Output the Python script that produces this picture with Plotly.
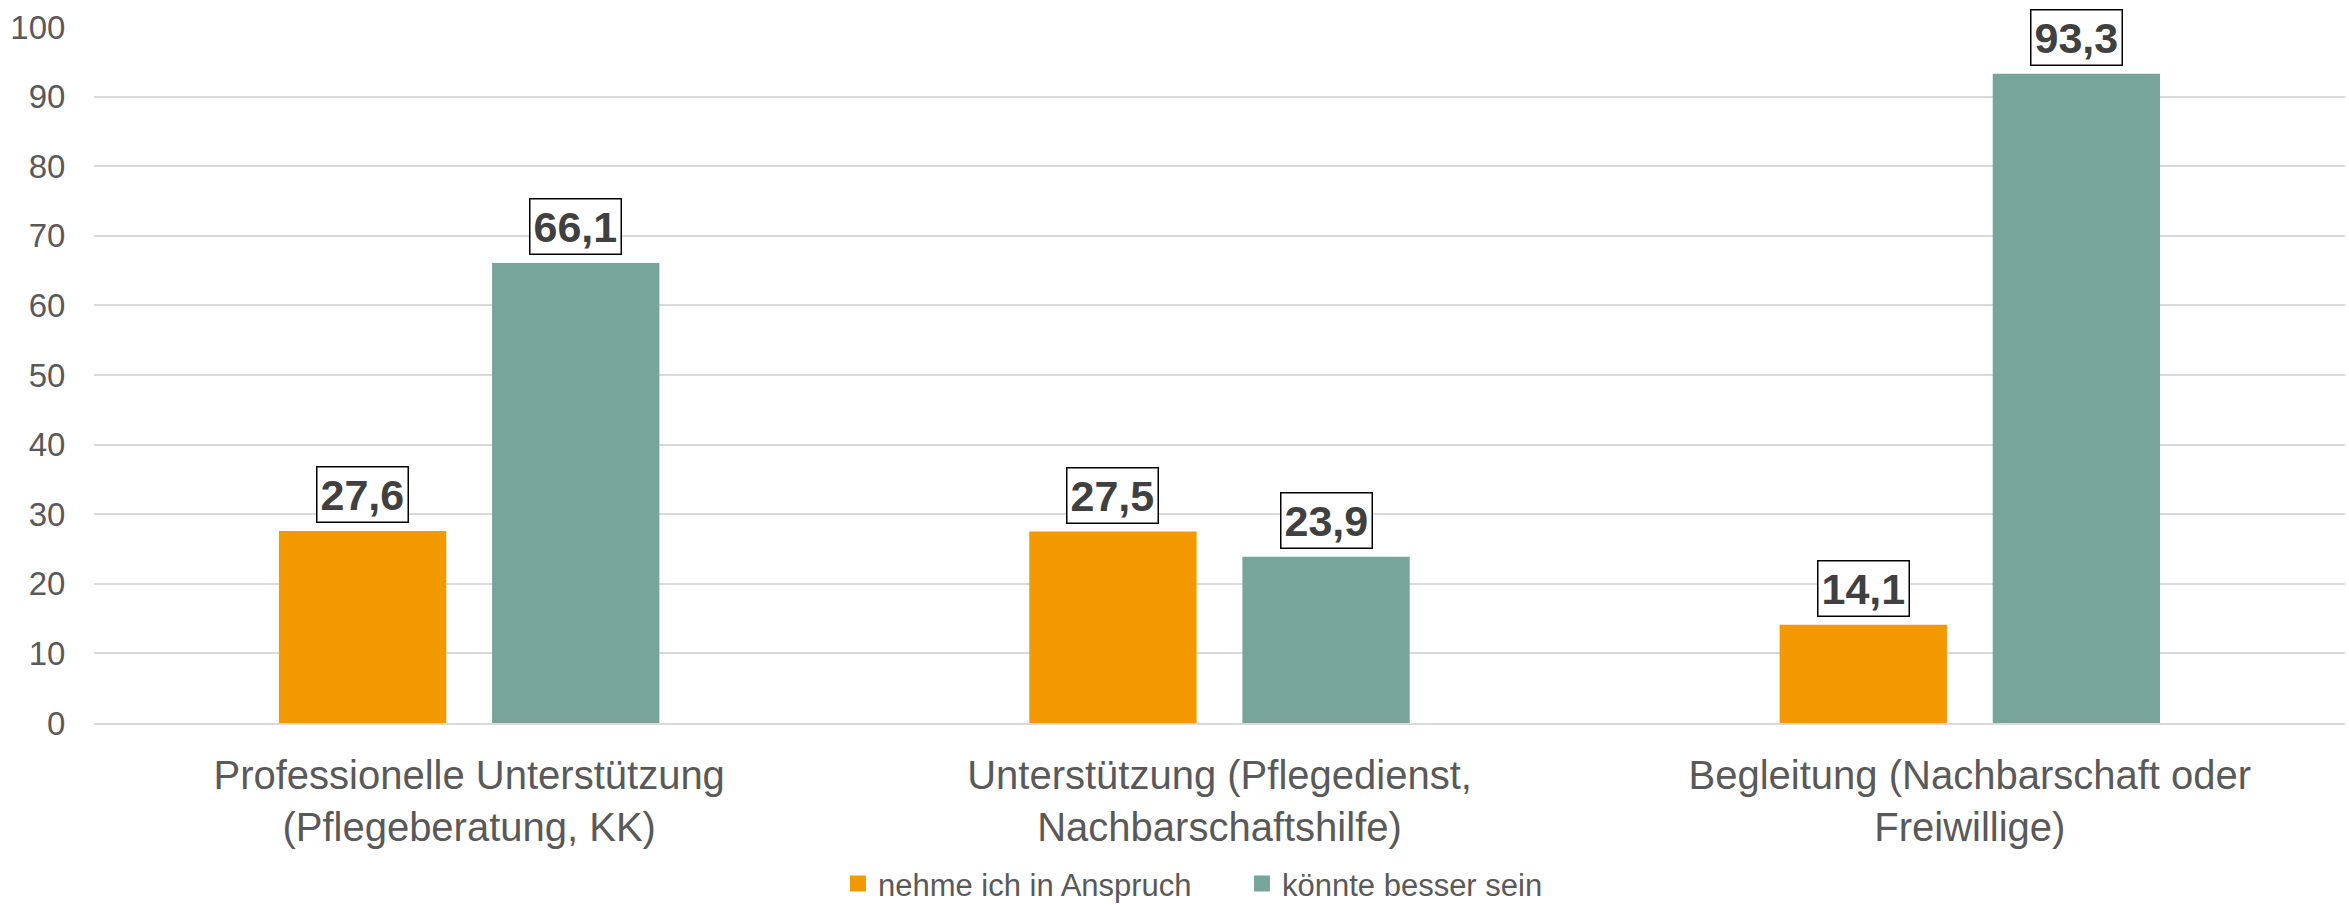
import plotly.graph_objects as go

categories = [
    "Professionelle Unterstützung<br>(Pflegeberatung, KK)",
    "Unterstützung (Pflegedienst,<br>Nachbarschaftshilfe)",
    "Begleitung (Nachbarschaft oder<br>Freiwillige)",
]
series_names = ["nehme ich in Anspruch", "könnte besser sein"]
nehme = [27.6, 27.5, 14.1]
besser = [66.1, 23.9, 93.3]
y_ticks = [0, 10, 20, 30, 40, 50, 60, 70, 80, 90, 100]

colors = ["#F29900", "#78A599"]
offset = 0.142
bar_w = 0.223
font = "Arial, Liberation Sans, sans-serif"

pos = list(range(len(categories)))
fig = go.Figure()
annotations = []
for k, (name, vals, col) in enumerate(zip(series_names, [nehme, besser], colors)):
    xs = [p + (2 * k - 1) * offset for p in pos]
    fig.add_trace(go.Bar(
        x=xs, y=vals, width=bar_w, name=name, showlegend=False,
        marker={"color": col, "line": {"width": 0}},
    ))
    # legend entry with a bigger square swatch
    fig.add_trace(go.Scatter(
        x=[None], y=[None], mode="markers", name=name,
        marker={"symbol": "square", "size": 17, "color": col},
    ))
    for x, v in zip(xs, vals):
        annotations.append({
            "x": x, "y": v, "xref": "x", "yref": "y",
            "text": f"{v:.1f}".replace(".", ","),
            "showarrow": False, "yanchor": "bottom", "yshift": 8,
            "font": {"family": font, "size": 43, "color": "#404040", "weight": "bold"},
            "bordercolor": "#000000", "borderwidth": 1.5, "borderpad": 3,
            "bgcolor": "white",
        })

fig.update_layout(
    width=2349, height=905,
    margin={"l": 94, "r": 4, "t": 27, "b": 182, "autoexpand": False},
    paper_bgcolor="white", plot_bgcolor="white",
    font={"family": font, "color": "#595959"},
    annotations=annotations,
    showlegend=True,
    legend={
        "orientation": "h", "x": 0.3305, "xanchor": "left",
        "y": -0.231, "yanchor": "middle",
        "font": {"size": 31, "color": "#595959"},
        "itemwidth": 30, "entrywidth": 359,
    },
    xaxis={
        "range": [-0.5, 2.5], "automargin": False,
        "tickvals": pos, "ticktext": categories,
        "tickfont": {"size": 40, "color": "#595959"},
        "ticks": "outside", "ticklen": 16, "tickcolor": "rgba(0,0,0,0)",
        "showgrid": False, "zeroline": False,
        "showline": True, "linecolor": "#D9D9D9", "linewidth": 2,
    },
    yaxis={
        "range": [0, 100], "automargin": False,
        "tickvals": y_ticks,
        "tickfont": {"size": 33, "color": "#595959"},
        "ticks": "outside", "ticklen": 21, "tickcolor": "rgba(0,0,0,0)",
        "showgrid": True, "gridcolor": "#D9D9D9", "gridwidth": 2,
        "zeroline": False, "showline": False,
    },
)

# drop the default 8px body margin so the figure fills the window exactly
fig.write_html(
    "out.html",
    config={"displayModeBar": False},
    post_script="document.body.style.margin = '0';",
)
